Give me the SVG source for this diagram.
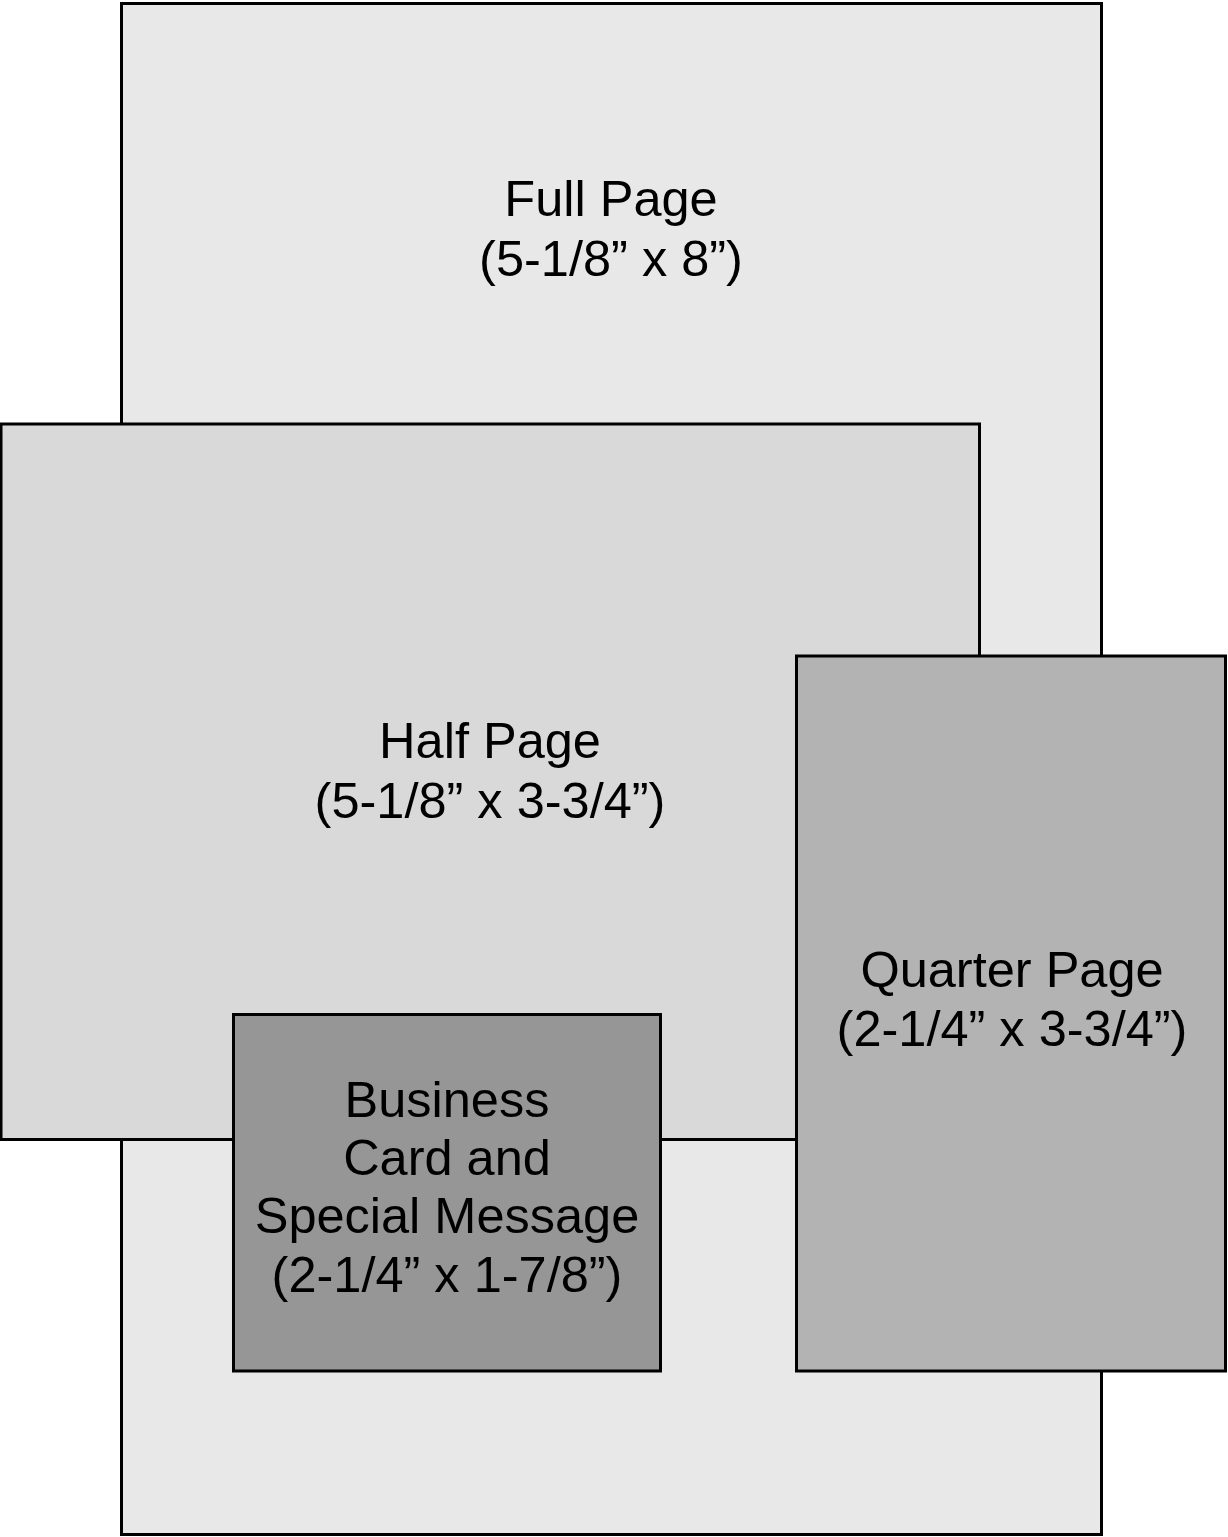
<svg xmlns="http://www.w3.org/2000/svg" width="1228" height="1537" viewBox="0 0 1228 1537">
<style>
  .box { stroke: #000; stroke-width: 3; }
  text { font-family: "Liberation Sans", Arial, sans-serif; font-size: 50.5px; fill: #000; text-anchor: middle; }
</style>
<rect x="0" y="0" width="1228" height="1537" fill="#fff"/>
<g id="full-page">
  <rect class="box" x="121.5" y="3.5" width="980" height="1531" fill="#e8e8e8"/>
  <text x="611" y="216">Full Page</text>
  <text x="611" y="276">(5-1/8” x 8”)</text>
</g>
<g id="half-page">
  <rect class="box" x="1" y="424" width="978.5" height="715.5" fill="#d9d9d9"/>
  <text x="490" y="758">Half Page</text>
  <text x="490" y="818">(5-1/8” x 3-3/4”)</text>
</g>
<g id="quarter-page">
  <rect class="box" x="796.5" y="656" width="429" height="715" fill="#b3b3b3"/>
  <text x="1012" y="987">Quarter Page</text>
  <text x="1012" y="1046">(2-1/4” x 3-3/4”)</text>
</g>
<g id="business-card">
  <rect class="box" x="233.5" y="1014.5" width="427" height="356.5" fill="#969696"/>
  <text x="447" y="1117">Business</text>
  <text x="447" y="1175">Card and</text>
  <text x="447" y="1233">Special Message</text>
  <text x="447" y="1292">(2-1/4” x 1-7/8”)</text>
</g>
<g id="connectors"></g>
</svg>
